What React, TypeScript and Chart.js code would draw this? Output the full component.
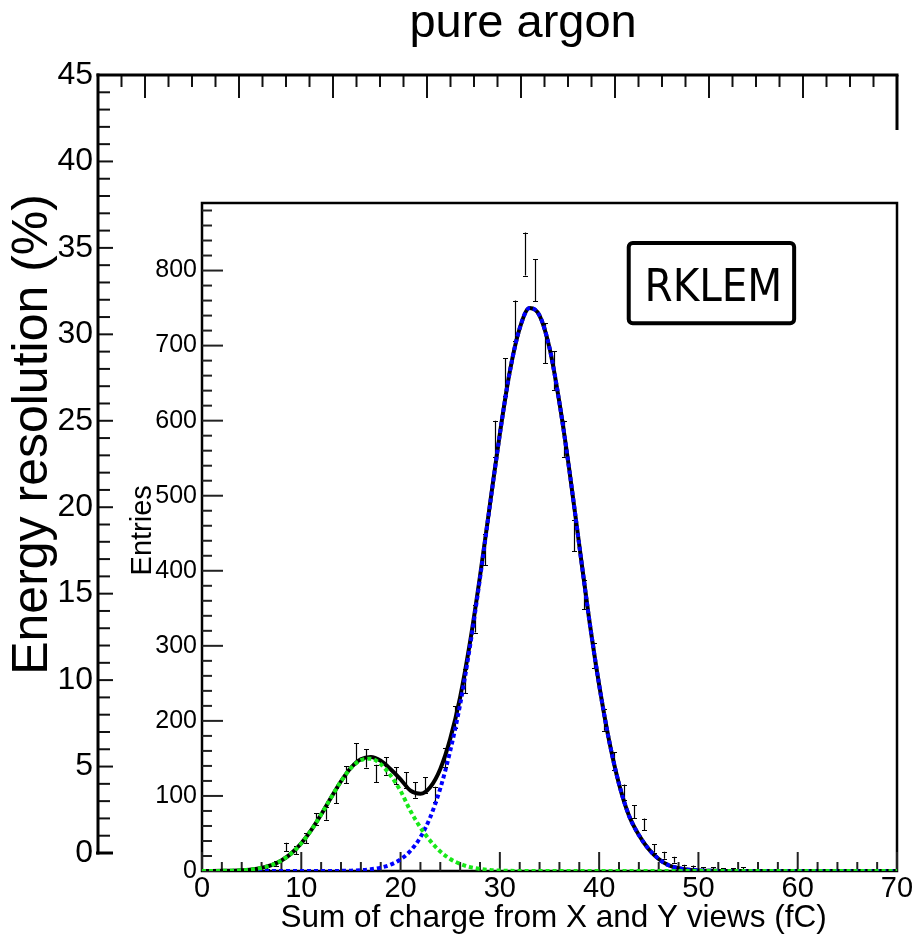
import React, { useEffect, useRef } from "react";
import { Chart, registerables } from "chart.js";

Chart.register(...registerables);

const FONT = "'Liberation Sans', Arial, Helvetica, sans-serif";
const BOX_FONT = "'DejaVu Sans Condensed', 'DejaVu Sans', sans-serif";

// ---------- outer frame (energy resolution) ----------
const chartTitle = "pure argon";
const outerYTitle = "Energy resolution (%)";
const outerYTickLabels = [0, 5, 10, 15, 20, 25, 30, 35, 40, 45];
const outerXMajorTicks = [0, 1, 2, 3, 4, 5, 6, 7, 8];

// ---------- inset histogram ----------
const insetXTitle = "Sum of charge from X and Y views (fC)";
const insetYTitle = "Entries";
const insetLabel = "RKLEM";
const insetXTickLabels = [0, 10, 20, 30, 40, 50, 60, 70];
const insetYTickLabels = [0, 100, 200, 300, 400, 500, 600, 700, 800];

const binCenters = [
  0.5, 1.5, 2.5, 3.5, 4.5, 5.5, 6.5, 7.5, 8.5, 9.5,
  10.5, 11.5, 12.5, 13.5, 14.5, 15.5, 16.5, 17.5, 18.5, 19.5,
  20.5, 21.5, 22.5, 23.5, 24.5, 25.5, 26.5, 27.5, 28.5, 29.5,
  30.5, 31.5, 32.5, 33.5, 34.5, 35.5, 36.5, 37.5, 38.5, 39.5,
  40.5, 41.5, 42.5, 43.5, 44.5, 45.5, 46.5, 47.5, 48.5, 49.5,
  50.5, 51.5, 52.5, 53.5, 54.5, 55.5, 56.5, 57.5, 58.5, 59.5,
  60.5, 61.5, 62.5, 63.5, 64.5, 65.5, 66.5, 67.5, 68.5, 69.5,
];
const binCounts = [
  0, 0, 0, 0, 1, 2, 4, 10, 32, 28,
  44, 69, 77, 100, 128, 158, 150, 130, 140, 127,
  121, 108, 114, 102, 151, 205, 253, 336, 428, 576,
  658, 733, 822, 787, 703, 667, 576, 447, 368, 287,
  201, 146, 105, 79, 62, 30, 21, 15, 6, 5,
  3, 3, 2, 2, 3, 1, 1, 1, 1, 0,
  1, 0, 1, 0, 0, 0, 0, 0, 0, 0,
];

const fitX = [
  0, 1, 2, 3, 4, 5, 6, 7, 8, 9,
  10, 11, 12, 13, 14, 15, 16, 17, 18, 19,
  20, 21, 22, 23, 24, 25, 26, 27, 28, 29,
  30, 31, 32, 33, 34, 35, 36, 37, 38, 39,
  40, 41, 42, 43, 44, 45, 46, 47, 48, 49,
  50, 51, 52, 53, 54, 55, 56, 57, 58, 59,
  60, 61, 62, 63, 64, 65, 66, 67, 68, 69, 70,
];
const fitTotal = [
  0.02, 0.07, 0.18, 0.42, 0.97, 2.1, 4.2, 7.9, 14.1, 23.5,
  36.9, 54.4, 75.2, 97.8, 119.6, 137.6, 148.8, 151.9, 146.8, 135.6,
  122.2, 107, 103, 112, 136, 176, 231.5, 305.2, 392.7, 488.3,
  582.6, 665.3, 723.1, 750, 740, 697, 624, 534, 434, 335,
  248, 174, 116, 74, 48, 29, 16, 7.6, 3.8, 1.8,
  0.8, 0.35, 0.15, 0, 0, 0, 0, 0, 0, 0,
  0, 0, 0, 0, 0, 0, 0, 0, 0, 0, 0,
];
const fitPeakLow = [
  0.02, 0.07, 0.18, 0.42, 0.97, 2.1, 4.2, 7.9, 14.1, 23.5,
  36.9, 54.4, 75.2, 97.8, 119.4, 137.1, 147.7, 149.6, 142.3, 127.1,
  106.7, 80, 58, 40, 26, 16, 9.5, 5.2, 2.7, 1.3,
  0.6, 0.25, 0.1, 0, 0, 0, 0, 0, 0, 0,
  0, 0, 0, 0, 0, 0, 0, 0, 0, 0,
  0, 0, 0, 0, 0, 0, 0, 0, 0, 0,
  0, 0, 0, 0, 0, 0, 0, 0, 0, 0, 0,
];
const fitPeakMain = [
  0, 0, 0, 0, 0, 0, 0, 0, 0, 0,
  0, 0, 0, 0, 0.2, 0.5, 1.1, 2.3, 4.5, 8.5,
  15.5, 27, 45, 72, 110, 160, 222, 300, 390, 487,
  582, 665, 723, 750, 740, 697, 624, 534, 434, 335,
  248, 174, 116, 74, 48, 29, 16, 7.6, 3.8, 1.8,
  0.8, 0.35, 0.15, 0, 0, 0, 0, 0, 0, 0,
  0, 0, 0, 0, 0, 0, 0, 0, 0, 0, 0,
];

// ---------- helpers ----------
function seg(ctx: CanvasRenderingContext2D, x1: number, y1: number, x2: number, y2: number) {
  ctx.beginPath();
  ctx.moveTo(x1, y1);
  ctx.lineTo(x2, y2);
  ctx.stroke();
}
function steps(from: number, to: number, step: number): number[] {
  const out: number[] = [];
  const n = Math.round((to - from) / step);
  for (let i = 0; i <= n; i++) out.push(+(from + i * step).toFixed(6));
  return out;
}

const outerPlugin = {
  id: "outerFrame",
  afterDraw(chart: any) {
    const { ctx, chartArea: a, scales } = chart;
    const xs = scales.x;
    const ys = scales.y;
    ctx.save();
    ctx.strokeStyle = "#111";
    ctx.lineWidth = 2;
    for (const v of steps(ys.min, ys.max, 1)) {
      const py = ys.getPixelForValue(v);
      const major = outerYTickLabels.includes(v);
      seg(ctx, a.left, py, a.left + (major ? 15 : 12), py);
    }
    for (const v of steps(xs.min + 0.25, xs.max, 0.25)) {
      const px = xs.getPixelForValue(v);
      const major = outerXMajorTicks.includes(v);
      seg(ctx, px, a.top, px, a.top + (major ? 23 : 12));
    }
    ctx.strokeStyle = "#000";
    ctx.lineWidth = 3;
    seg(ctx, a.left - 2, a.bottom, a.left + 15, a.bottom);
    seg(ctx, a.left, a.top - 1.5, a.left, a.bottom + 1.5);
    seg(ctx, a.left - 1.5, a.top, a.right + 1.5, a.top);
    seg(ctx, a.right, a.top, a.right, a.top + 55);

    ctx.fillStyle = "#000";
    ctx.textAlign = "center";
    ctx.textBaseline = "alphabetic";
    ctx.font = `47px ${FONT}`;
    ctx.fillText(chartTitle, a.left + (a.right - a.left) * 0.532, a.top - 38);

    ctx.save();
    ctx.translate(a.left - 51, a.top + (a.bottom - a.top) * 0.462);
    ctx.rotate(-Math.PI / 2);
    ctx.font = `50px ${FONT}`;
    ctx.fillText(outerYTitle, 0, 0);
    ctx.restore();
    ctx.restore();
  },
};

const insetPlugin = {
  id: "insetDecor",
  beforeDatasetsDraw(chart: any) {
    const { ctx, chartArea: a, scales } = chart;
    const xs = scales.x;
    const ys = scales.y;
    ctx.save();
    ctx.strokeStyle = "#000";
    ctx.lineWidth = 2.5;
    ctx.strokeRect(a.left, a.top, a.right - a.left, a.bottom - a.top);

    ctx.strokeStyle = "#222";
    ctx.lineWidth = 2;
    for (const v of steps(xs.min, xs.max, 2)) {
      const px = xs.getPixelForValue(v);
      const major = insetXTickLabels.includes(v);
      seg(ctx, px, a.bottom, px, a.bottom - (major ? 19 : 9));
    }
    for (const v of steps(ys.min, Math.floor(ys.max / 20) * 20, 20)) {
      const py = ys.getPixelForValue(v);
      const major = insetYTickLabels.includes(v);
      seg(ctx, a.left, py, a.left + (major ? 21 : 10), py);
    }

    // error bars of the histogram (dataset 3)
    const meta = chart.getDatasetMeta(3);
    ctx.strokeStyle = "#000";
    ctx.lineWidth = 1.2;
    meta.data.forEach((pt: any, i: number) => {
      const n = binCounts[i];
      if (n <= 0) return;
      const err = Math.sqrt(n);
      const px = Math.round(pt.x) + 0.5;
      const yHi = ys.getPixelForValue(n + err);
      const yLo = ys.getPixelForValue(Math.max(n - err, 0));
      ctx.beginPath();
      ctx.moveTo(px, yLo);
      ctx.lineTo(px, yHi);
      ctx.moveTo(px - 2.5, Math.round(yLo) + 0.5);
      ctx.lineTo(px + 2.5, Math.round(yLo) + 0.5);
      ctx.moveTo(px - 2.5, Math.round(yHi) + 0.5);
      ctx.lineTo(px + 2.5, Math.round(yHi) + 0.5);
      ctx.stroke();
    });
    ctx.restore();
  },
  afterDraw(chart: any) {
    const { ctx, chartArea: a } = chart;
    const w = a.right - a.left;
    const h = a.bottom - a.top;
    ctx.save();
    // label box
    const bx = a.left + w * 0.614;
    const by = a.top + h * 0.06;
    const bw = w * 0.238;
    const bh = h * 0.12;
    ctx.strokeStyle = "#000";
    ctx.lineWidth = 4;
    ctx.beginPath();
    (ctx as any).roundRect(bx, by, bw, bh, 4);
    ctx.stroke();
    ctx.fillStyle = "#000";
    ctx.textAlign = "center";
    ctx.textBaseline = "alphabetic";
    ctx.font = `45px ${BOX_FONT}`;
    ctx.fillText(insetLabel, bx + bw / 2 + 2, by + bh * 0.72);

    // axis titles
    ctx.font = `31.5px ${FONT}`;
    ctx.fillText(insetXTitle, a.left + w * 0.506, a.bottom + 56);

    ctx.save();
    ctx.translate(a.left - 51, a.top + h * 0.49);
    ctx.rotate(-Math.PI / 2);
    ctx.font = `29px ${FONT}`;
    ctx.fillText(insetYTitle, 0, 0);
    ctx.restore();
    ctx.restore();
  },
};

export default function App() {
  const outerRef = useRef<HTMLCanvasElement | null>(null);
  const innerRef = useRef<HTMLCanvasElement | null>(null);

  useEffect(() => {
    const outer = new Chart(outerRef.current as HTMLCanvasElement, {
      type: "scatter",
      data: { datasets: [{ data: [], pointRadius: 0 }] },
      options: {
        animation: false,
        responsive: false,
        devicePixelRatio: 1,
        layout: { padding: { left: 0, top: 75, right: 15, bottom: 86 } },
        plugins: { legend: { display: false }, tooltip: { enabled: false }, title: { display: false } },
        scales: {
          x: { type: "linear", min: -0.5, max: 8, display: false },
          y: {
            type: "linear",
            min: 0,
            max: 45,
            grid: { display: false, drawTicks: false },
            border: { display: false },
            afterBuildTicks: (s: any) => {
              s.ticks = outerYTickLabels.map((v) => ({ value: v }));
            },
            afterFit: (s: any) => {
              s.width = 98;
              s.paddingTop = 0;
              s.paddingBottom = 0;
            },
            ticks: {
              color: "#000",
              padding: 5,
              font: { family: FONT, size: 32 },
            },
          },
        },
      },
      plugins: [outerPlugin],
    } as any);

    const inner = new Chart(innerRef.current as HTMLCanvasElement, {
      type: "line",
      data: {
        datasets: [
          {
            label: "low peak",
            data: fitX.map((x, i) => ({ x, y: fitPeakLow[i] })),
            borderColor: "#18e818",
            borderWidth: 4,
            borderDash: [4, 3],
            pointRadius: 0,
            cubicInterpolationMode: "monotone",
            fill: false,
          },
          {
            label: "main peak",
            data: fitX.map((x, i) => ({ x, y: fitPeakMain[i] })),
            borderColor: "#0000ff",
            borderWidth: 4,
            borderDash: [4, 3],
            pointRadius: 0,
            cubicInterpolationMode: "monotone",
            fill: false,
          },
          {
            label: "total fit",
            data: fitX.map((x, i) => ({ x, y: fitTotal[i] })),
            borderColor: "#000",
            borderWidth: 4,
            pointRadius: 0,
            cubicInterpolationMode: "monotone",
            fill: false,
          },
          {
            label: "entries",
            data: binCenters.map((x, i) => ({ x, y: binCounts[i] })),
            showLine: false,
            pointRadius: 0,
            borderWidth: 0,
          },
        ],
      },
      options: {
        animation: false,
        responsive: false,
        devicePixelRatio: 1,
        layout: { padding: { left: 122, top: 203, right: 15, bottom: 0 } },
        plugins: { legend: { display: false }, tooltip: { enabled: false }, title: { display: false } },
        scales: {
          x: {
            type: "linear",
            min: 0,
            max: 70,
            grid: { display: false, drawTicks: false },
            border: { display: false },
            afterBuildTicks: (s: any) => {
              s.ticks = insetXTickLabels.map((v) => ({ value: v }));
            },
            afterFit: (s: any) => {
              s.height = 68;
              s.paddingLeft = 0;
              s.paddingRight = 0;
            },
            ticks: {
              color: "#000",
              padding: 1,
              maxRotation: 0,
              font: { family: FONT, size: 29 },
            },
          },
          y: {
            type: "linear",
            min: 0,
            max: 890,
            grid: { display: false, drawTicks: false },
            border: { display: false },
            afterBuildTicks: (s: any) => {
              s.ticks = insetYTickLabels.map((v) => ({ value: v }));
            },
            afterFit: (s: any) => {
              s.width = 80;
              s.paddingTop = 0;
              s.paddingBottom = 0;
            },
            ticks: {
              color: "#000",
              padding: 5,
              font: { family: FONT, size: 25 },
            },
          },
        },
      },
      plugins: [insetPlugin],
    } as any);

    return () => {
      outer.destroy();
      inner.destroy();
    };
  }, []);

  return (
    <div style={{ position: "fixed", left: 0, top: 0, width: 912, height: 939, background: "#fff" }}>
      <canvas ref={outerRef} width={912} height={939} style={{ position: "absolute", left: 0, top: 0 }} />
      <canvas ref={innerRef} width={912} height={939} style={{ position: "absolute", left: 0, top: 0 }} />
    </div>
  );
}
